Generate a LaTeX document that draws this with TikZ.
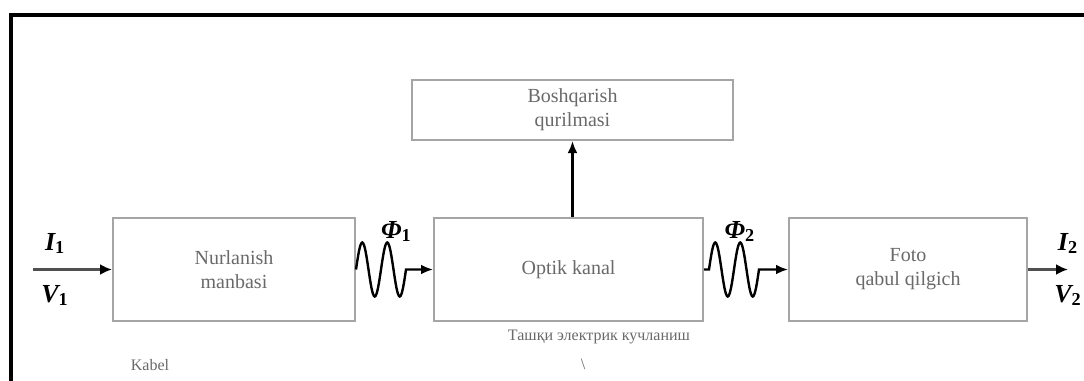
\documentclass[tikz,border=0pt]{standalone}
\usepackage{fontspec}
\setmainfont{Liberation Serif}
\usetikzlibrary{arrows.meta, positioning, calc}
\definecolor{boxgray}{RGB}{165,165,165}
\definecolor{labelgray}{RGB}{105,105,105}
\definecolor{feedgray}{RGB}{80,80,80}
\newcommand{\lightwave}{sin ++(6.25,-27) cos ++(6.25,27) sin ++(6.25,27) cos ++(6.25,-27)
                        sin ++(6.25,-27) cos ++(6.25,27) sin ++(6.25,27) cos ++(6.25,-27)}
\newcommand{\idx}[1]{\textsubscript{\upshape #1}}

\begin{document}
\begin{tikzpicture}[
    x=0.5pt, y=-0.5pt,
    every node/.style={font=\normalsize},
    block/.style={rectangle, draw=boxgray, line width=1pt, minimum width=#1, minimum height=51.5pt, align=center, text=labelgray},
    sym/.style={font=\fontsize{13}{15}\selectfont\bfseries\itshape, text=black, inner sep=1pt},
    note/.style={font=\footnotesize, text=labelgray},
    sig/.style={line width=1.2pt, -{Latex[length=6pt, width=5pt]}},
    feed/.style={line width=1.6pt, draw=feedgray, -{Latex[length=6pt, width=5.5pt, color=black]}}
]
\useasboundingbox (0,0) rectangle (1084,381);
% outer frame (only top and left edges are in view)
\draw[line width=2pt] (10.5,381) -- (10.5,14.5) -- (1084,14.5);

\node[block=121pt] (nur) at (234,269.5) {Nurlanish\\manbasi};
\node[block=134.5pt, right=38.5pt of nur] (optik) {Optik kanal};
\node[block=119pt, right=42pt of optik] (foto) {Foto\\qabul qilgich};
\node[block=160.5pt, minimum height=30pt, above=38pt of optik, xshift=2pt] (bosh) {Boshqarish\\qurilmasi};

\coordinate[left=39.5pt of nur.west] (in);
\coordinate[right=20pt of foto.east] (out);

\draw[feed] (in) -- node[pos=0.28, above=6pt, sym] (i1) {I\idx{1}}
                    node[pos=0.28, below=6pt, sym] (v1) {V\idx{1}} (nur.west);
\draw[feed] (foto.east) -- (out)
    node[above=6pt, sym] (i2) {I\idx{2}}
    node[below=6pt, sym] (v2) {V\idx{2}};

% light signals: two periods of a sine, then the arrow
\draw[sig] (nur.east) \lightwave -- (optik.west);
\draw[sig] (optik.east) -- ++(5,0) \lightwave -- (foto.west);
\node[sym, yshift=19pt, xshift=1pt] (phi1) at ($(nur.east)!.5!(optik.west)$) {Φ\idx{1}};
\node[sym, yshift=19pt, xshift=-3pt] (phi2) at ($(optik.east)!.5!(foto.west)$) {Φ\idx{2}};

\draw[sig] (bosh.south |- optik.north) -- (bosh.south);

\node[note] (kabel) at (150,365) {Kabel};
\node[note] (tashqi) at (599,337) {Ташқи электрик кучланиш};
\node[note] (belgi) at (583,364) {\textbackslash};
\end{tikzpicture}
\end{document}
